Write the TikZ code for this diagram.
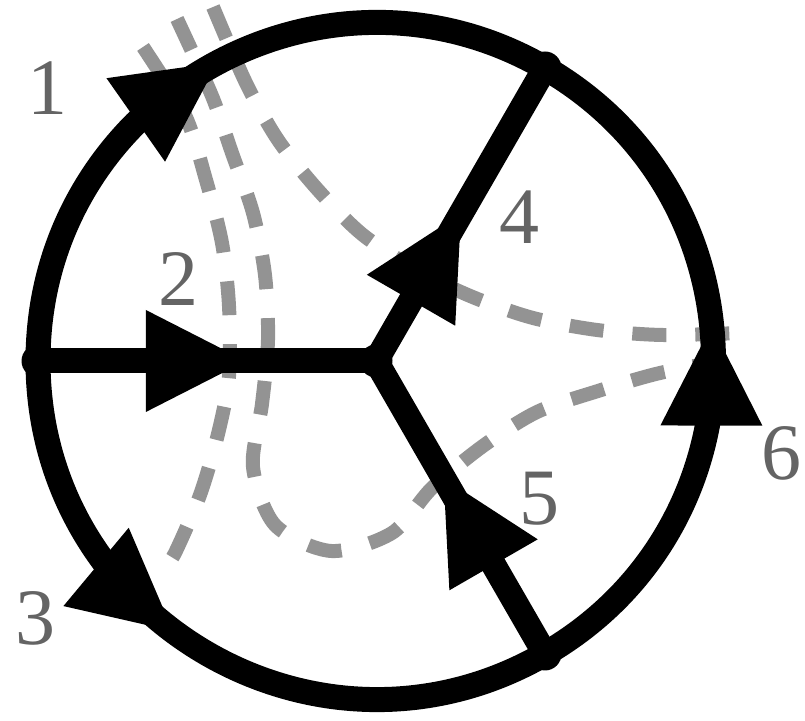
\documentclass[tikz,border=0pt]{standalone}
\usepackage{fontspec}
\setmainfont{Liberation Serif}
\usetikzlibrary{arrows.meta,decorations.markings}

\definecolor{cutgray}{RGB}{147,147,147}
\definecolor{labgray}{RGB}{100,100,100}

\begin{document}
\begin{tikzpicture}[
    x=0.5pt, y=0.5pt,
    vertex/.style={circle, fill=black, inner sep=0pt, minimum size=16.5pt},
    graphedge/.style={draw=black, line width=12.5pt},
    cut/.style={draw=cutgray, line width=7pt, dash pattern=on 17pt off 14.5pt},
    lab/.style={text=labgray, inner sep=0pt, font=\fontsize{40}{40}\selectfont},
    midtip/.style 2 args={postaction={decorate}, decoration={markings,
        mark=at position #1 with {\pgftransformrotate{#2}\arrow{Triangle[length=50pt, width=51pt, line width=0pt]}}}}
]
\useasboundingbox (0,0) rectangle (805,721);

% Cut lines
\draw[cut] plot[smooth] coordinates {(213,714) (246,638) (278,581) (318,531) (363,486) (420,449) (475,423) (533,403) (597,391) (662,386) (740,388)};
\draw[cut] plot[smooth] coordinates {(177,702) (212,625) (232,568) (253,508) (265,446) (268,381) (262,317) (253,254) (275,196) (331,170) (392,188) (432,233) (483,275) (537,309) (598,330) (660,348) (738,363)};
\draw[cut] plot[smooth] coordinates {(143,674) (185,606) (206,541) (222,478) (229,415) (229,345) (218,287) (200,226) (175,168) (163,151)};

% Vertices
\node[vertex] (vl) at (38,360) {};
\node[vertex] (vc) at (376,360) {};
\node[vertex] (vt) at (545,653) {};
\node[vertex] (vb) at (545,67) {};

% Outer ring
\draw[graphedge, midtip={0.517}{7}] (vl.center) to[out=90, in=150, looseness=1.135] (vt.center);
\draw[graphedge, midtip={0.55}{-6}] (vb.center) to[out=30, in=-30, looseness=1.135] (vt.center);
\draw[graphedge, midtip={0.442}{-3}] (vl.center) to[out=-90, in=210, looseness=1.135] (vb.center);

% Spokes
\draw[graphedge, midtip={0.615}{0}] (vl.center) -- (vc.center);
\draw[graphedge, midtip={0.503}{0}] (vc.center) -- (vt.center);
\draw[graphedge, midtip={0.6}{0}] (vb.center) -- (vc.center);

% Edge labels
\node[lab] (l1) at (47,633) {1};
\node[lab] (l2) at (178,442) {2};
\node[lab] (l3) at (36,103) {3};
\node[lab] (l4) at (519,504) {4};
\node[lab] (l5) at (539,222) {5};
\node[lab] (l6) at (781,268) {6};

\end{tikzpicture}
\end{document}
